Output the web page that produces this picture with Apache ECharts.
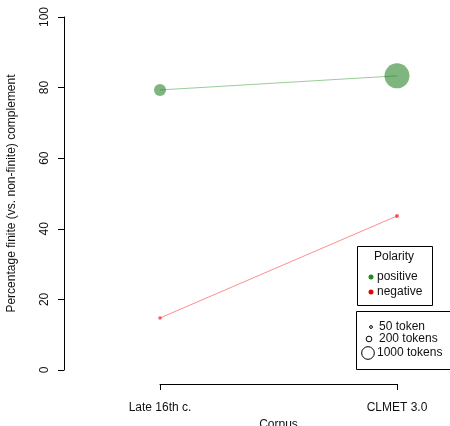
<!DOCTYPE html>
<html>
<head>
<meta charset="utf-8">
<script src="https://cdn.jsdelivr.net/npm/echarts@6/dist/echarts.min.js"></script>
<style>html,body{margin:0;padding:0;background:#fff}#c{width:450px;height:426px}</style>
</head>
<body>
<div id="c"></div>
<script>
const categories = ['Late 16th c.', 'CLMET 3.0'];
const positiveValues = [79.3, 83.3];
const negativeValues = [14.7, 43.6];
const positiveTokens = [900, 3900];
const negativeTokens = [75, 100];
const yTicks = [0, 20, 40, 60, 80, 100];
const legendTokens = [50, 200, 1000];
const legendTokenLabels = ['50 token', '200 tokens', '1000 tokens'];

const FONT = 'Liberation Sans, Arial, sans-serif';
const sizeFor = n => 0.4 * Math.sqrt(n);
const PAD = 4; // R-style 4% range extension

const chart = echarts.init(document.getElementById('c'), null, {renderer: 'canvas'});

function mkSeries(name, values, tokens, pointColor, lineColor) {
  return {
    name: name,
    type: 'line',
    xAxisIndex: 1, yAxisIndex: 1,
    data: values.map((v, i) => [i + 1, v]),
    symbol: 'circle',
    symbolSize: (val, params) => sizeFor(tokens[params.dataIndex]),
    itemStyle: {color: pointColor, borderWidth: 0},
    lineStyle: {color: lineColor, width: 1},
    clip: false,
    silent: true,
    emphasis: {disabled: true}
  };
}

const legendGraphics = [];
legendGraphics.push({type: 'rect', shape: {x: 357.5, y: 246.5, width: 75, height: 59}, style: {fill: '#fff', stroke: '#000', lineWidth: 1}});
legendGraphics.push({type: 'text', x: 394, y: 257, style: {text: 'Polarity', font: '12px ' + FONT, fill: '#111', align: 'center', verticalAlign: 'middle'}});
legendGraphics.push({type: 'circle', shape: {cx: 371, cy: 277, r: 2.5}, style: {fill: '#1e8a1e'}});
legendGraphics.push({type: 'text', x: 377, y: 277, style: {text: 'positive', font: '12px ' + FONT, fill: '#111', align: 'left', verticalAlign: 'middle'}});
legendGraphics.push({type: 'circle', shape: {cx: 371, cy: 292, r: 2.5}, style: {fill: '#ee0000'}});
legendGraphics.push({type: 'text', x: 377, y: 292, style: {text: 'negative', font: '12px ' + FONT, fill: '#111', align: 'left', verticalAlign: 'middle'}});

legendGraphics.push({type: 'rect', shape: {x: 356.5, y: 311.5, width: 100, height: 58}, style: {fill: '#fff', stroke: '#000', lineWidth: 1}});
const lgY = [327, 339, 353];
const lgCX = [371, 369, 368];
const lgTX = [379, 379, 377];
legendTokens.forEach((n, i) => {
  legendGraphics.push({type: 'circle', shape: {cx: lgCX[i], cy: lgY[i], r: sizeFor(n) / 2}, style: {fill: 'none', stroke: '#000', lineWidth: 1}});
  legendGraphics.push({type: 'text', x: lgTX[i], y: lgY[i], style: {text: legendTokenLabels[i], font: '12px ' + FONT, fill: '#111', align: 'left', verticalAlign: 'middle'}});
});

const pxPerUnit = 353 / 100;
const gridBTop = 384 - (100 + 2 * PAD) * pxPerUnit;

chart.setOption({
  animation: false,
  backgroundColor: '#fff',
  grid: [
    {left: 64, right: 53, top: 17, bottom: 56, containLabel: false, outerBoundsMode: 'none'},
    {left: 160, right: 53, top: gridBTop, bottom: 42, containLabel: false, outerBoundsMode: 'none'}
  ],
  xAxis: [
    {gridIndex: 0, type: 'value', min: 0, max: 1, show: false},
    {
      gridIndex: 1, type: 'value', min: 1, max: 2, interval: 1, position: 'bottom',
      axisLine: {show: true, onZero: false, lineStyle: {color: '#000', width: 1}},
      axisTick: {show: true, length: 6, inside: false, lineStyle: {color: '#000'}},
      axisLabel: {margin: 18, color: '#111', fontSize: 12, fontFamily: FONT,
        formatter: v => categories[Math.round(v) - 1] || ''},
      splitLine: {show: false},
      name: 'Corpus', nameLocation: 'middle', nameGap: 30,
      nameTextStyle: {color: '#111', fontSize: 12, fontFamily: FONT}
    }
  ],
  yAxis: [
    {
      gridIndex: 0, type: 'value', min: yTicks[0], max: yTicks[yTicks.length - 1], interval: 20,
      axisLine: {show: true, onZero: false, lineStyle: {color: '#000', width: 1}},
      axisTick: {show: true, length: 6, inside: false, lineStyle: {color: '#000'}},
      axisLabel: {rotate: 90, margin: 13, color: '#111', fontSize: 12, fontFamily: FONT},
      splitLine: {show: false},
      name: 'Percentage finite (vs. non-finite) complement', nameLocation: 'middle', nameGap: 46, nameRotate: 90,
      nameTextStyle: {color: '#111', fontSize: 12, fontFamily: FONT}
    },
    {gridIndex: 1, type: 'value', min: yTicks[0] - PAD, max: yTicks[yTicks.length - 1] + PAD, show: false}
  ],
  series: [
    mkSeries('positive', positiveValues, positiveTokens, 'rgba(0,110,0,0.5)', 'rgba(0,128,0,0.4)'),
    mkSeries('negative', negativeValues, negativeTokens, 'rgba(240,30,30,0.7)', 'rgba(255,0,0,0.45)')
  ],
  graphic: legendGraphics
});
</script>
</body>
</html>
